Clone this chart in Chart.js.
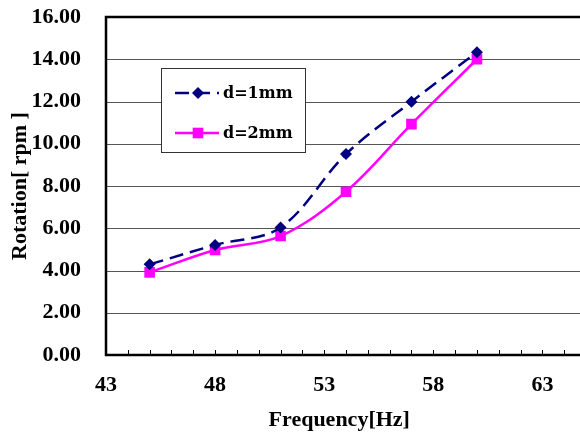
<!DOCTYPE html>
<html>
<head>
<meta charset="utf-8">
<script src="https://cdn.jsdelivr.net/npm/chart.js@4/dist/chart.umd.min.js"></script>
<style>
  html, body { margin: 0; padding: 0; background: #fff; }
</style>
</head>
<body>
<canvas id="rotChart" width="580" height="434"></canvas>
<script>
const ctx = document.getElementById("rotChart").getContext("2d");

// values
const frequency = [45, 48, 51, 54, 57, 60];
const rot1mm = [4.29, 5.21, 6.04, 9.51, 11.99, 14.33];
const rot2mm = [3.91, 4.97, 5.63, 7.73, 10.93, 14.0];
const xTickValues = [43, 48, 53, 58, 63];
const seriesLabels = ["d=1mm", "d=2mm"];

const tickFont = { family: "'Liberation Serif', 'Times New Roman', serif", size: 22, weight: "bold" };
const titleFont = { family: "'Liberation Serif', 'Times New Roman', serif", size: 22, weight: "bold" };
const gridColor = "#555";

// horizontal grid lines, drawn across to the canvas edge
const gridPlugin = {
  id: "hgrid",
  beforeDatasetsDraw(chart) {
    const c = chart.ctx;
    const a = chart.chartArea;
    const ys = chart.scales.y;
    c.save();
    c.strokeStyle = gridColor;
    c.lineWidth = 1;
    ys.ticks.forEach((t) => {
      const py = Math.round(ys.getPixelForValue(t.value)) + 0.5;
      c.beginPath();
      c.moveTo(a.left, py);
      c.lineTo(580, py);
      c.stroke();
    });
    c.restore();
  }
};

// frame and inside ticks on the x axis
const framePlugin = {
  id: "frame",
  afterDraw(chart) {
    const c = chart.ctx;
    const a = chart.chartArea;
    const xs = chart.scales.x;
    c.save();
    c.strokeStyle = "#000";
    c.lineWidth = 1;
    for (let v = 44; v <= 64; v++) {
      const px = Math.round(xs.getPixelForValue(v)) + 0.5;
      c.beginPath();
      c.moveTo(px, a.bottom);
      c.lineTo(px, a.bottom - 5);
      c.stroke();
    }
    c.lineWidth = 2.5;
    c.beginPath();
    c.moveTo(580, a.top);
    c.lineTo(a.left, a.top);
    c.lineTo(a.left, a.bottom);
    c.lineTo(580, a.bottom);
    c.stroke();
    c.restore();
  }
};

// legend box inside the plot, like the original
const boxLegend = {
  id: "boxLegend",
  afterDraw(chart) {
    const c = chart.ctx;
    const bx = 161, by = 68, bw = 144, bh = 84;
    c.save();
    c.fillStyle = "#fff";
    c.fillRect(bx, by, bw, bh);
    c.strokeStyle = "#333";
    c.lineWidth = 1;
    c.strokeRect(bx + 0.5, by + 0.5, bw, bh);
    chart.data.datasets.forEach((ds, i) => {
      const y = by + 25 + i * 40;
      c.strokeStyle = ds.borderColor;
      c.fillStyle = ds.backgroundColor;
      c.lineWidth = 2.5;
      c.setLineDash(ds.borderDash || []);
      c.beginPath();
      c.moveTo(175, y);
      c.lineTo(219, y);
      c.stroke();
      c.setLineDash([]);
      c.beginPath();
      if (ds.pointStyle === "rectRot") {
        const r = ds.pointRadius;
        c.moveTo(198, y - r);
        c.lineTo(198 + r, y);
        c.lineTo(198, y + r);
        c.lineTo(198 - r, y);
        c.closePath();
      } else {
        const h = ds.pointRadius * Math.SQRT1_2;
        c.rect(198 - h, y - h, h * 2, h * 2);
      }
      c.fill();
      c.fillStyle = "#000";
      c.font = "bold 16px 'DejaVu Serif', serif";
      c.textBaseline = "middle";
      c.fillText(ds.label, 223, y + 1);
    });
    c.restore();
  }
};

new Chart(ctx, {
  type: "line",
  data: {
    datasets: [
      {
        label: seriesLabels[0],
        data: frequency.map((f, i) => ({ x: f, y: rot1mm[i] })),
        borderColor: "#000080",
        backgroundColor: "#000080",
        borderWidth: 2.5,
        borderDash: [14, 7],
        pointStyle: "rectRot",
        pointRadius: 6,
        pointBorderWidth: 0,
        tension: 0.35,
      },
      {
        label: seriesLabels[1],
        data: frequency.map((f, i) => ({ x: f, y: rot2mm[i] })),
        borderColor: "#FF00FF",
        backgroundColor: "#FF00FF",
        borderWidth: 2.5,
        pointStyle: "rect",
        pointRadius: 7.5,
        pointBorderWidth: 0,
        tension: 0.35,
      },
    ],
  },
  options: {
    responsive: false,
    animation: false,
    layout: { padding: { top: 17, right: 0, left: 0, bottom: 0 } },
    plugins: {
      legend: { display: false },
      tooltip: { enabled: false },
    },
    scales: {
      x: {
        type: "linear",
        min: 43,
        max: 64.38,
        afterBuildTicks: (scale) => {
          scale.ticks = xTickValues.map((v) => ({ value: v }));
        },
        afterFit: (scale) => {
          scale.height = 79;
          scale.paddingLeft = 0;
          scale.paddingRight = 0;
        },
        grid: { display: false, drawTicks: false },
        border: { display: false },
        ticks: { color: "#000", font: tickFont, padding: 17, maxRotation: 0 },
        title: {
          display: true,
          text: "Frequency[Hz]",
          color: "#000",
          font: titleFont,
          padding: { top: 4, bottom: 0 },
        },
      },
      y: {
        min: 0,
        max: 16,
        afterFit: (scale) => {
          scale.width = 106;
          scale.paddingTop = 0;
          scale.paddingBottom = 0;
        },
        grid: { display: false, drawTicks: false },
        border: { display: false },
        ticks: {
          stepSize: 2,
          color: "#000",
          font: tickFont,
          padding: 25,
          callback: (v) => v.toFixed(2),
        },
        title: {
          display: true,
          text: "Rotation[ rpm ]",
          color: "#000",
          font: titleFont,
          padding: { top: 7, bottom: 0 },
        },
      },
    },
  },
  plugins: [gridPlugin, framePlugin, boxLegend],
});
</script>
</body>
</html>
